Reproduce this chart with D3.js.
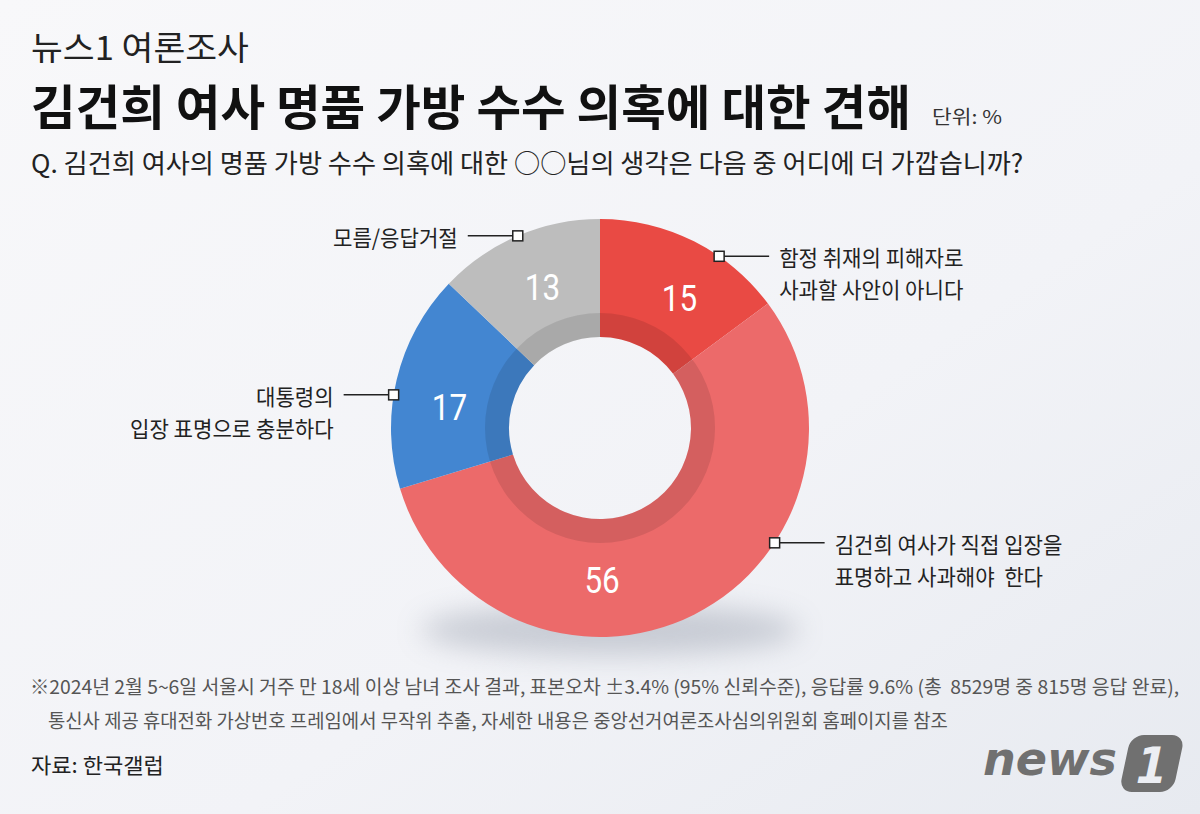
<!DOCTYPE html>
<html><head><meta charset="utf-8">
<script src="https://cdn.jsdelivr.net/npm/d3@7"></script>
<style>body{margin:0;background:#f4f5f9}svg{display:block}</style>
</head><body><svg id="c" width="1200" height="814"></svg>
<script>
// ---------- data ----------
const categories = [
  ["함정 취재의 피해자로", "사과할 사안이 아니다"],
  ["김건희 여사가 직접 입장을", "표명하고 사과해야  한다"],
  ["대통령의", "입장 표명으로 충분하다"],
  ["모름/응답거절"]
];
const values = [15, 56, 17, 13];
const colors = ["#e94a44", "#ec6a6a", "#4386d1", "#bdbdbd"];
const headline = "뉴스1 여론조사";
const title = "김건희 여사 명품 가방 수수 의혹에 대한 견해";
const unit = "단위: %";
const question = "Q. 김건희 여사의 명품 가방 수수 의혹에 대한 ○○님의 생각은 다음 중 어디에 더 가깝습니까?";
const notes = [
  "※2024년 2월 5~6일 서울시 거주 만 18세 이상 남녀 조사 결과, 표본오차 ±3.4% (95% 신뢰수준), 응답률 9.6% (총  8529명 중 815명 응답 완료),",
  "통신사 제공 휴대전화 가상번호 프레임에서 무작위 추출, 자세한 내용은 중앙선거여론조사심의위원회 홈페이지를 참조"
];
const source = "자료: 한국갤럽";

// ---------- layout ----------
const FONT = "'Noto Sans CJK KR', 'Noto Sans', sans-serif";
const cx = 600, cy = 428, R = 209, r0 = 91, ringR = 115;
const markerFrac = [0.65, 0.35, 0.43, 0.50];
const valueFrac = [0.59, 0.63, 0.41, 0.52];
const labelSide = [1, 1, -1, -1];

const svg = d3.select("#c");
const defs = svg.append("defs");
const bg = defs.append("linearGradient").attr("id", "bg")
  .attr("x1", "0").attr("y1", "0").attr("x2", "1").attr("y2", "1");
bg.append("stop").attr("offset", "0").attr("stop-color", "#f8f8fa");
bg.append("stop").attr("offset", "0.6").attr("stop-color", "#f2f3f7");
bg.append("stop").attr("offset", "1").attr("stop-color", "#e7eaf0");
const blur = defs.append("filter").attr("id", "blur")
  .attr("x", "-50%").attr("y", "-50%").attr("width", "200%").attr("height", "200%");
blur.append("feGaussianBlur").attr("stdDeviation", 14);

svg.append("rect").attr("width", 1200).attr("height", 814).attr("fill", "url(#bg)");

function txt(parent, str, x, y, o) {
  const t = parent.append("text").text(str)
    .attr("font-family", o.family || FONT)
    .attr("font-size", o.size)
    .attr("font-weight", o.weight || 400)
    .attr("font-style", o.style || "normal")
    .attr("fill", o.fill || "#222")
    .attr("text-anchor", o.anchor || "start")
    .attr("dominant-baseline", "central")
    .style("white-space", "pre");
  let sx = o.sx || 1;
  if (o.width) {
    const w = t.node().getComputedTextLength();
    if (w > 0) sx = o.width / w;
  }
  t.attr("transform", `translate(${x},${y}) scale(${sx},1)`);
  return t;
}

// ---------- header ----------
txt(svg, headline, 31, 46, {size: 33, width: 218, fill: "#222"});
txt(svg, title, 31, 104, {size: 48, weight: 700, width: 880, fill: "#111"});
txt(svg, unit, 932, 116, {size: 19, width: 70, fill: "#333"});
txt(svg, question, 31, 162, {size: 26, width: 993, fill: "#222"});

// ---------- donut ----------
svg.append("ellipse").attr("cx", cx + 10).attr("cy", cy + 202)
  .attr("rx", 190).attr("ry", 26).attr("fill", "#7d8596")
  .attr("opacity", 0.35).attr("filter", "url(#blur)");

const pie = d3.pie().sort(null).value(d => d);
const arcs = pie(values);
const arc = d3.arc().innerRadius(r0).outerRadius(R);
const g = svg.append("g").attr("transform", `translate(${cx},${cy})`);

g.selectAll("path.seg").data(arcs).join("path").attr("class", "seg")
  .attr("d", arc).attr("fill", (d, i) => colors[i]);

g.append("path")
  .attr("d", d3.arc().innerRadius(r0).outerRadius(ringR)({startAngle: 0, endAngle: 2 * Math.PI}))
  .attr("fill", "#000").attr("opacity", 0.1);

// value labels
arcs.forEach((d, i) => {
  const a = d.startAngle + (d.endAngle - d.startAngle) * valueFrac[i];
  const rr = 152;
  txt(g, String(values[i]), rr * Math.sin(a), -rr * Math.cos(a),
    {size: 37, family: "Roboto, 'Noto Sans', sans-serif", fill: "#fff", anchor: "middle", sx: 0.85});
});

// callouts
arcs.forEach((d, i) => {
  const a = d.startAngle + (d.endAngle - d.startAngle) * markerFrac[i];
  const mx = cx + R * Math.sin(a), my = cy - R * Math.cos(a);
  const s = labelSide[i];
  svg.append("line").attr("x1", mx).attr("y1", my).attr("x2", mx + s * 50).attr("y2", my)
    .attr("stroke", "#222").attr("stroke-width", 1.5);
  svg.append("rect").attr("x", mx - 5).attr("y", my - 5).attr("width", 10).attr("height", 10)
    .attr("fill", "#fff").attr("stroke", "#222").attr("stroke-width", 1.5);
  categories[i].forEach((line, k) => {
    txt(svg, line, mx + s * 60, my + k * 32,
      {size: 22, sx: 0.96, anchor: s > 0 ? "start" : "end", fill: "#222"});
  });
});

// ---------- footer ----------
txt(svg, notes[0], 30, 686, {size: 19, width: 1150, fill: "#555"});
txt(svg, notes[1], 48, 719, {size: 19, width: 900, fill: "#555"});
txt(svg, source, 31, 764, {size: 21, width: 133, fill: "#222"});

// logo
txt(svg, "news", 983, 759, {size: 46, weight: 700, style: "italic",
  family: "'DejaVu Sans', sans-serif", width: 134, fill: "#707070"});
const lg = svg.append("g").attr("transform", "translate(1152,763) skewX(-12)");
lg.append("rect").attr("x", -27).attr("y", -28).attr("width", 54).attr("height", 57)
  .attr("rx", 13).attr("fill", "#707070");
txt(lg, "1", 0, 2, {size: 50, weight: 700, family: "'DejaVu Sans', sans-serif",
  anchor: "middle", fill: "#eceef3", sx: 0.9});
</script></body></html>
